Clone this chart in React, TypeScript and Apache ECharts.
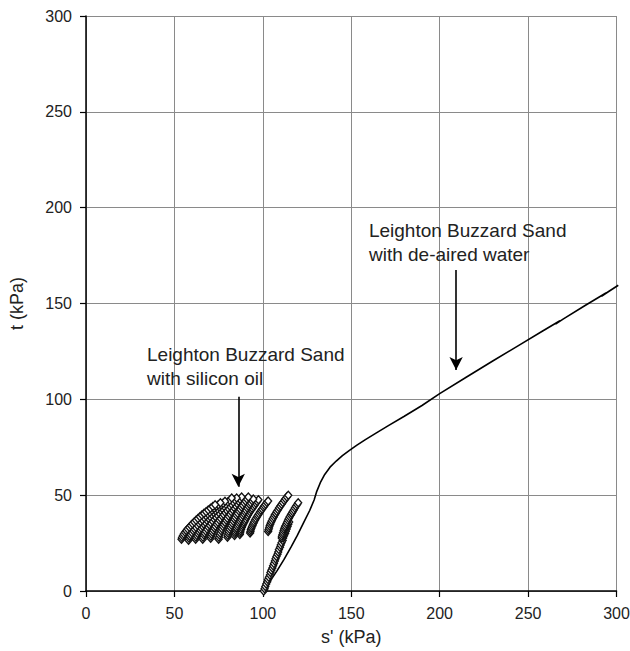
import React, { useEffect, useRef } from "react";
import * as echarts from "echarts";

// Axis ticks
const xTicks = [0, 50, 100, 150, 200, 250, 300];
const yTicks = [0, 50, 100, 150, 200, 250, 300];

// Leighton Buzzard Sand with de-aired water: stress path [s', t]
const waterPath: number[][] = [
  [100.5, 0], [104, 5], [108, 10.5], [112, 16.5], [116, 23], [119.5, 29], [123, 35.5],
  [126.5, 42], [129, 47.5], [130.5, 52], [132.5, 56.5], [135, 60.8], [138, 64.6], [141.5, 67.8],
  [145, 70.6], [149, 73.4], [153, 76], [158, 79], [164, 82.4], [171, 86.3], [180, 91.2],
  [190, 96.8], [200, 103], [215, 111.5], [230, 120], [245, 128.3], [258, 135.5], [268, 141],
  [265.5, 139.2], [270, 142], [282, 148.8], [294, 155.5], [291.5, 153.8], [296, 156.5],
  [301, 159.5],
];

// Leighton Buzzard Sand with silicon oil: cyclic loading points [s', t]
const oilBand: number[][] = [
  [100.5, 0], [101, 1.2], [101.4, 2.4], [101.9, 3.6], [102.5, 4.8], [102.9, 6], [103.4, 7.2],
  [104, 8.4], [104.3, 9.6], [104.8, 10.8], [105.4, 12], [105.8, 13.2], [106.3, 14.4],
  [106.8, 15.6], [107.2, 16.8], [107.7, 18], [108.3, 19.2], [108.7, 20.4], [109.1, 21.6],
  [109.7, 22.8], [110.1, 24], [110.6, 25.2], [111.2, 26.4], [111.5, 27.6], [112, 28.8],
  [112.6, 30], [113, 31.2], [113.5, 32.4], [114, 33.6], [114.4, 34.8], [114.9, 36],
];
const oilCycle12: number[][] = [
  [110.7, 27.7], [110.8, 28.6], [111.1, 29.5], [111.4, 30.4], [111.7, 31.4], [112, 32.3],
  [112.4, 33.2], [112.8, 34.1], [113.3, 35], [113.7, 35.9], [114.2, 36.9], [114.7, 37.8],
  [115.2, 38.7], [115.8, 39.6], [116.3, 40.5], [116.9, 41.4], [117.5, 42.3], [118.1, 43.3],
  [118.7, 44.2], [119.4, 45.1], [120, 46],
];
const oilCycle11: number[][] = [
  [103, 31], [103.2, 32], [103.5, 32.9], [103.8, 33.9], [104.2, 34.8], [104.6, 35.8],
  [105.1, 36.7], [105.6, 37.7], [106.2, 38.6], [106.7, 39.6], [107.3, 40.5], [107.9, 41.5],
  [108.6, 42.4], [109.2, 43.4], [109.9, 44.3], [110.6, 45.3], [111.3, 46.2], [112.1, 47.2],
  [112.8, 48.1], [113.6, 49.1], [114.4, 50],
];
const oilCycle10: number[][] = [
  [92.8, 30.3], [93, 31.1], [93.2, 32], [93.5, 32.8], [93.9, 33.6], [94.3, 34.5], [94.7, 35.3],
  [95.1, 36.1], [95.6, 37], [96.1, 37.8], [96.7, 38.7], [97.2, 39.5], [97.8, 40.3],
  [98.4, 41.2], [99, 42], [99.6, 42.8], [100.3, 43.7], [100.9, 44.5], [101.6, 45.3],
  [102.3, 46.2], [103, 47],
];
const oilCycle9: number[][] = [
  [87, 29.5], [87.2, 30.4], [87.4, 31.3], [87.7, 32.2], [88.1, 33.1], [88.5, 34], [88.9, 34.9],
  [89.4, 35.8], [89.9, 36.7], [90.4, 37.6], [91, 38.6], [91.5, 39.5], [92.1, 40.4],
  [92.7, 41.3], [93.4, 42.2], [94, 43.1], [94.7, 44], [95.4, 44.9], [96.1, 45.8],
  [96.8, 46.7], [97.5, 47.6],
];
const oilCycle8: number[][] = [
  [84, 29], [84.2, 30], [84.4, 30.9], [84.7, 31.9], [85.1, 32.8], [85.5, 33.8], [86, 34.7],
  [86.4, 35.7], [86.9, 36.6], [87.5, 37.6], [88, 38.5], [88.6, 39.5], [89.2, 40.4],
  [89.8, 41.4], [90.4, 42.3], [91.1, 43.3], [91.8, 44.2], [92.4, 45.2], [93.1, 46.1],
  [93.9, 47.1], [94.6, 48],
];
const oilCycle7: number[][] = [
  [80, 28], [80.2, 29.1], [80.5, 30.1], [80.8, 31.2], [81.2, 32.2], [81.7, 33.3], [82.2, 34.3],
  [82.7, 35.4], [83.3, 36.4], [83.9, 37.5], [84.5, 38.5], [85.1, 39.6], [85.8, 40.6],
  [86.5, 41.7], [87.2, 42.7], [87.9, 43.8], [88.6, 44.8], [89.4, 45.9], [90.2, 46.9],
  [91, 48], [91.8, 49],
];
const oilCycle6: number[][] = [
  [75, 27], [75.2, 28.1], [75.5, 29.2], [75.9, 30.3], [76.4, 31.4], [76.9, 32.5], [77.4, 33.6],
  [78, 34.7], [78.6, 35.8], [79.3, 36.9], [79.9, 38], [80.6, 39.1], [81.4, 40.2],
  [82.1, 41.3], [82.9, 42.4], [83.7, 43.5], [84.5, 44.6], [85.4, 45.7], [86.2, 46.8],
  [87.1, 47.9], [88, 49],
];
const oilCycle5: number[][] = [
  [70.5, 27.5], [70.7, 28.6], [71.1, 29.6], [71.5, 30.7], [72, 31.7], [72.6, 32.8],
  [73.2, 33.8], [73.9, 34.9], [74.6, 35.9], [75.3, 37], [76.1, 38], [76.9, 39.1], [77.7, 40.1],
  [78.5, 41.2], [79.4, 42.2], [80.3, 43.3], [81.3, 44.3], [82.2, 45.4], [83.2, 46.4],
  [84.2, 47.5], [85.2, 48.5],
];
const oilCycle4: number[][] = [
  [66, 27], [66.2, 28.1], [66.7, 29.2], [67.1, 30.2], [67.7, 31.3], [68.4, 32.4], [69, 33.5],
  [69.8, 34.5], [70.5, 35.6], [71.4, 36.7], [72.2, 37.8], [73.1, 38.8], [74, 39.9], [75, 41],
  [76, 42.1], [77, 43.1], [78, 44.2], [79.1, 45.3], [80.2, 46.4], [81.3, 47.4], [82.4, 48.5],
];
const oilCycle3: number[][] = [
  [62, 27], [62.2, 28], [62.7, 29], [63.2, 30], [63.7, 31], [64.4, 31.9], [65.1, 32.9],
  [65.8, 33.9], [66.6, 34.9], [67.4, 35.9], [68.3, 36.9], [69.2, 37.9], [70.1, 38.9],
  [71.1, 39.9], [72.1, 40.9], [73.1, 41.9], [74.2, 42.8], [75.2, 43.8], [76.3, 44.8],
  [77.5, 45.8], [78.6, 46.8],
];
const oilCycle2: number[][] = [
  [58, 26.5], [58.3, 27.5], [58.7, 28.5], [59.3, 29.4], [59.9, 30.4], [60.6, 31.4],
  [61.3, 32.4], [62.1, 33.3], [63, 34.3], [63.9, 35.3], [64.8, 36.3], [65.8, 37.2],
  [66.8, 38.2], [67.8, 39.2], [68.9, 40.2], [70, 41.1], [71.2, 42.1], [72.3, 43.1],
  [73.5, 44.1], [74.8, 45], [76, 46],
];
const oilCycle1: number[][] = [
  [54, 27], [54.3, 27.9], [54.8, 28.8], [55.3, 29.7], [56, 30.6], [56.7, 31.5], [57.5, 32.4],
  [58.4, 33.3], [59.3, 34.2], [60.2, 35.1], [61.2, 36], [62.2, 36.9], [63.3, 37.8],
  [64.4, 38.7], [65.5, 39.6], [66.7, 40.5], [67.9, 41.4], [69.1, 42.3], [70.4, 43.2],
  [71.7, 44.1], [73, 45],
];

// Annotations (data coordinates)
const annOilText = "Leighton Buzzard Sand\nwith silicon oil";
const annOilAnchor = [34.5, 123];
const annOilArrow = [[86.1, 101.4], [86.1, 54.4]];
const annWaterText = "Leighton Buzzard Sand\nwith de-aired water";
const annWaterAnchor = [160, 188];
const annWaterArrow = [[209.3, 167.5], [209.3, 115.3]];

const FONT = "'Liberation Sans', Arial, Helvetica, sans-serif";

export default function App() {
  const ref = useRef<HTMLDivElement>(null);
  useEffect(() => {
    if (!ref.current) return;
    const chart = echarts.init(ref.current, undefined, { renderer: "svg" });
    const oilPoints = [
      ...oilBand, ...oilCycle12, ...oilCycle11, ...oilCycle10, ...oilCycle9, ...oilCycle8,
      ...oilCycle7, ...oilCycle6, ...oilCycle5, ...oilCycle4, ...oilCycle3, ...oilCycle2,
      ...oilCycle1,
    ];
    const axisCommon = {
      type: "value" as const,
      min: xTicks[0],
      max: xTicks[xTicks.length - 1],
      interval: xTicks[1] - xTicks[0],
      axisLine: { show: true, onZero: false, lineStyle: { color: "#000", width: 1.5 } },
      axisTick: { show: true, inside: false, length: 6, lineStyle: { color: "#000", width: 1.2 } },
      splitLine: { show: true, lineStyle: { color: "#8a8a8a", width: 1 } },
      axisLabel: { fontSize: 16, color: "#222", fontFamily: FONT, margin: 14 },
      nameLocation: "middle" as const,
      nameTextStyle: { fontSize: 18, color: "#222", fontFamily: FONT },
    };
    chart.setOption({
      animation: false,
      backgroundColor: "#fff",
      grid: {
        left: 86, right: 13.5, top: 16, bottom: 60,
        containLabel: false, outerBoundsMode: "none",
      },
      xAxis: { ...axisCommon, name: "s' (kPa)", nameGap: 37 },
      yAxis: {
        ...axisCommon,
        min: yTicks[0],
        max: yTicks[yTicks.length - 1],
        interval: yTicks[1] - yTicks[0],
        name: "t (kPa)",
        nameGap: 60,
      },
      series: [
        {
          type: "line",
          data: waterPath,
          showSymbol: false,
          symbol: "none",
          clip: false,
          lineStyle: { color: "#000", width: 1.6 },
          z: 3,
          markLine: {
            silent: true,
            symbol: ["none", "arrow"],
            symbolSize: [10, 13],
            label: { show: false },
            lineStyle: { color: "#000", width: 1.6, type: "solid" },
            data: [
              [{ coord: annOilArrow[0] }, { coord: annOilArrow[1] }],
              [{ coord: annWaterArrow[0] }, { coord: annWaterArrow[1] }],
            ],
          },
        },
        {
          type: "scatter",
          data: oilPoints,
          symbol: "diamond",
          symbolSize: [7, 8],
          itemStyle: { color: "#fff", borderColor: "#111", borderWidth: 1.35, opacity: 1 },
          z: 4,
        },
      ],
    });
    const p1 = chart.convertToPixel({ gridIndex: 0 }, annOilAnchor) as number[];
    const p2 = chart.convertToPixel({ gridIndex: 0 }, annWaterAnchor) as number[];
    chart.setOption({
      graphic: [
        {
          type: "text",
          x: p1[0],
          y: p1[1] - 12.5,
          silent: true,
          style: { text: annOilText, font: `19px ${FONT}`, fill: "#222", lineHeight: 24, verticalAlign: "top" },
        },
        {
          type: "text",
          x: p2[0],
          y: p2[1] - 12.5,
          silent: true,
          style: { text: annWaterText, font: `19px ${FONT}`, fill: "#222", lineHeight: 24, verticalAlign: "top" },
        },
      ],
    });
    return () => chart.dispose();
  }, []);
  return (
    <div
      ref={ref}
      style={{ position: "fixed", left: 0, top: 0, width: 630, height: 651 }}
    />
  );
}
